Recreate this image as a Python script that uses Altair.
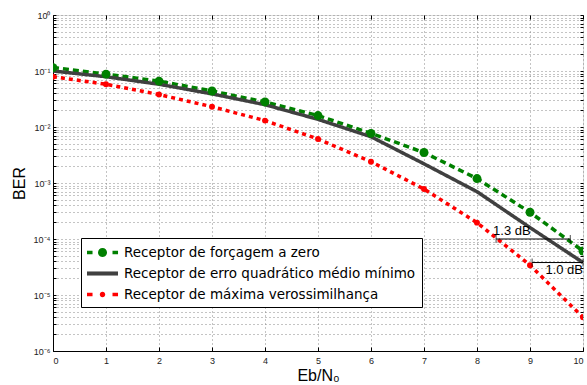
import altair as alt
import pandas as pd

ebn0 = [0, 1, 2, 3, 4, 5, 6, 7, 8, 9, 10]
ber_zf = [0.115, 0.088, 0.066, 0.044, 0.028, 0.016, 0.0077, 0.0035, 0.0012, 0.00030, 0.000061]
ber_mmse = [0.100, 0.079, 0.058, 0.039, 0.025, 0.0137, 0.0067, 0.0022, 0.00070, 0.00016, 0.000038]
ber_ml = [0.079, 0.058, 0.038, 0.023, 0.013, 0.0061, 0.0024, 0.00078, 0.000196, 0.000034, 0.000004]

names = ["Receptor de forçagem a zero",
         "Receptor de erro quadrático médio mínimo",
         "Receptor de máxima verossimilhança"]
colors = ["#008000", "#404040", "#ff0000"]
dashes = [[6, 4], [1, 0], [4, 4]]

# legend glyphs (paths in symbol units; symbol spans from -1 to the right)
def circ(cx, r):
    return (f"M{cx + r},0A{r},{r} 0 1,1 {cx - r},0"
            f"A{r},{r} 0 1,1 {cx + r},0Z")
bar_l = "M-1,-0.2H-0.35V0.2H-1Z"
bar_r = "M2.0,-0.2H2.65V0.2H2.0Z"
legend_shapes = [bar_l + bar_r + circ(0.825, 0.53),
                 "M-1,-0.24H2.65V0.24H-1Z",
                 bar_l + bar_r + circ(0.825, 0.32)]

# annotations (data coordinates)
ann1_x = [8.36, 9.76]; ann1_y = 1e-4; ann1_text = "1.3 dB"
ann2_x = [9.04, 10.0]; ann2_y = 3.8e-5; ann2_text = "1.0 dB"

rows = []
for name, ys in zip(names, [ber_zf, ber_mmse, ber_ml]):
    for x, y in zip(ebn0, ys):
        rows.append({"x": x, "y": y, "s": name})
df = pd.DataFrame(rows)

yvals = []
for e in range(-6, 0):
    for m in range(1, 10):
        yvals.append(m * 10 ** e)
yvals.append(1.0)

font = "Liberation Sans"
xscale = alt.Scale(domain=[0, 10], nice=False)
yscale = alt.Scale(type="log", domain=[1e-6, 1], nice=False)
cscale = alt.Scale(domain=names, range=colors)

label_expr = ("abs(log(datum.value)/LN10 - round(log(datum.value)/LN10)) < 0.001 ? "
              "'10' + ['⁰','⁻¹','⁻²','⁻³','⁻⁴','⁻⁵','⁻⁶'][-round(log(datum.value)/LN10)] : ''")

xaxis = alt.Axis(values=ebn0, title="Eb/N₀", titleFontSize=16, titleFontWeight="normal",
                 labelFontSize=9, grid=True, gridDash=[1, 3], gridColor="#888",
                 ticks=False, domainColor="black", labelPadding=5,
                 titlePadding=2, labelFont=font, titleFont=font, labelColor="#222",
                 titleColor="black")
yaxis = alt.Axis(values=yvals, labelExpr=label_expr, title="BER", titleFontSize=16,
                 titleFontWeight="normal", labelFontSize=9, grid=True, gridDash=[1, 3],
                 gridColor="#888", ticks=False, domainColor="black",
                 labelFont=font, titleFont=font, labelColor="#222", titleColor="black",
                 titlePadding=6, labelPadding=3)


def tick_axis(orient, values, size):
    return alt.Axis(orient=orient, values=values, offset=-size, tickSize=size,
                    tickColor="black", labels=False, domain=False, grid=False, title=None)


base = alt.Chart(df)
leg = alt.Legend(orient="none", legendX=28, legendY=223, title=None,
                 symbolSize=289, symbolStrokeWidth=0, labelFontSize=13.5,
                 labelFont="DejaVu Sans", labelColor="black",
                 fillColor="white", strokeColor="black",
                 padding=6, rowPadding=6, labelOffset=20,
                 labelLimit=450, symbolOpacity=1)

lines = base.mark_line(strokeWidth=3.5, clip=True).encode(
    x=alt.X("x:Q", scale=xscale, axis=xaxis),
    y=alt.Y("y:Q", scale=yscale, axis=yaxis),
    color=alt.Color("s:N", scale=cscale, legend=leg),
    strokeDash=alt.StrokeDash("s:N", scale=alt.Scale(domain=names, range=dashes), legend=None),
    order="x:Q",
)
# shape channel only drives the legend glyphs (points with no valid y are not drawn)
legend_layer = base.mark_point(filled=True, opacity=1).encode(
    x=alt.X("x:Q", axis=None), y=alt.Y("none:Q", axis=None),
    color=alt.Color("s:N", scale=cscale, legend=leg),
    shape=alt.Shape("s:N", scale=alt.Scale(domain=names, range=legend_shapes), legend=leg),
)
pts_zf = base.transform_filter(alt.datum.s == names[0]).mark_circle(
    size=80, opacity=1, color=colors[0], clip=True).encode(
    x=alt.X("x:Q", axis=tick_axis("top", ebn0, 4)),
    y=alt.Y("y:Q", axis=tick_axis("right", yvals, 3)))
pts_ml = base.transform_filter(alt.datum.s == names[2]).mark_circle(
    size=35, opacity=1, color=colors[2], clip=True).encode(
    x=alt.X("x:Q", axis=tick_axis("bottom", ebn0, 4)),
    y=alt.Y("y:Q", axis=tick_axis("left", yvals, 3)))

ann = pd.DataFrame({"x": [ann1_x[0], ann2_x[0]], "x2": [ann1_x[1], ann2_x[1]],
                    "y": [ann1_y, ann2_y], "t": [ann1_text, ann2_text]})
ann_rule = alt.Chart(ann).mark_rule(color="black", strokeWidth=1).encode(
    x=alt.X("x:Q", axis=None), x2="x2:Q", y=alt.Y("y:Q", axis=None))
ann_tick = alt.Chart(ann).transform_fold(["x", "x2"], as_=["k", "xx"]).mark_tick(
    color="black", thickness=1, size=8, orient="vertical").encode(
    x=alt.X("xx:Q", axis=None), y=alt.Y("y:Q", axis=None))
ann_text1 = alt.Chart(ann.iloc[[0]]).mark_text(
    align="left", baseline="bottom", dx=-3, dy=-1, fontSize=13, font=font).encode(
    x=alt.X("x:Q", axis=None), y=alt.Y("y:Q", axis=None), text="t:N")
ann_text2 = alt.Chart(ann.iloc[[1]]).mark_text(
    align="right", baseline="top", dx=0, dy=1, fontSize=13, font=font).encode(
    x=alt.X("x2:Q", axis=None), y=alt.Y("y:Q", axis=None), text="t:N")

chart = alt.layer(lines, legend_layer, pts_zf, pts_ml, ann_rule, ann_tick, ann_text1,
                  ann_text2).resolve_axis(x="independent", y="independent").properties(
    width=530, height=336,
    autosize=alt.AutoSizeParams(type="none"),
    padding={"left": 53, "top": 15, "right": 4, "bottom": 34},
).configure_view(stroke="black", strokeWidth=1.5).configure(background="white")

chart.save("out.html", embed_options={"renderer": "svg", "actions": False})
